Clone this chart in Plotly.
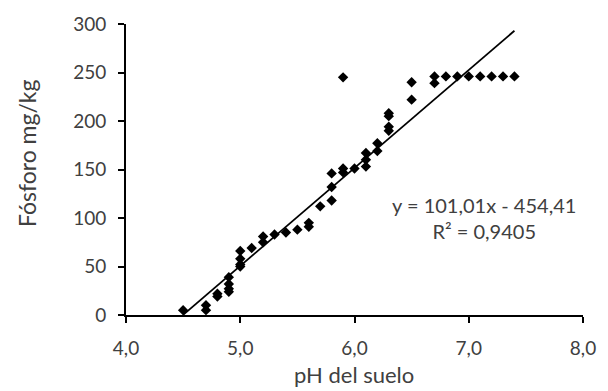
import plotly.graph_objects as go

ph = [4.5, 4.7, 4.7, 4.8, 4.8, 4.9, 4.9, 4.9, 4.9, 5.0, 5.0, 5.0, 5.0, 5.1,
      5.2, 5.2, 5.3, 5.4, 5.5, 5.6, 5.6, 5.7, 5.8, 5.8, 5.8, 5.9, 5.9, 5.9,
      6.0, 6.1, 6.1, 6.1, 6.2, 6.2, 6.3, 6.3, 6.3, 6.3, 6.5, 6.5, 6.7, 6.7,
      6.8, 6.9, 7.0, 7.1, 7.2, 7.3, 7.4]
fosforo = [5, 10, 5, 22, 19, 39, 32, 27, 24, 66, 58, 52, 50, 69,
           81, 75, 83, 85, 88, 95, 91, 112, 146, 132, 118, 245, 151, 147,
           151, 167, 160, 153, 177, 169, 208, 205, 194, 190, 240, 222, 246, 239,
           246, 246, 246, 246, 246, 246, 246]

slope = 101.01
intercept = -454.41
trend_x = [min(ph), max(ph)]
trend_y = [slope * v + intercept for v in trend_x]

x_ticks = [4.0, 5.0, 6.0, 7.0, 8.0]
y_ticks = [0, 50, 100, 150, 200, 250, 300]

font_family = "Lato, 'Open Sans', sans-serif"
txt = "#404040"

fig = go.Figure()
fig.add_trace(go.Scatter(x=trend_x, y=trend_y, mode="lines",
                         line=dict(color="black", width=1.75), showlegend=False,
                         hoverinfo="skip"))
fig.add_trace(go.Scatter(x=ph, y=fosforo, mode="markers",
                         marker=dict(symbol="diamond", size=8, color="black",
                                     line=dict(width=0)),
                         showlegend=False))

fig.add_annotation(x=7.13, y=99.5, xref="x", yref="y",
                   text="y = 101,01x - 454,41<br>R² = 0,9405",
                   showarrow=False, align="center",
                   font=dict(family=font_family, size=20, color=txt))

fig.add_annotation(x=0.498, y=-0.259, xref="paper", yref="paper",
                   text="pH del suelo", showarrow=False,
                   xanchor="center", yanchor="bottom",
                   font=dict(family=font_family, size=22, color=txt))

fig.add_annotation(x=-0.2165, y=0.557, xref="paper", yref="paper",
                   text="Fósforo mg/kg", showarrow=False, textangle=-90,
                   xanchor="center", yanchor="middle",
                   font=dict(family=font_family, size=23, color=txt))

fig.update_layout(
    width=608, height=391,
    margin=dict(l=126, r=20, t=24, b=76),
    paper_bgcolor="white", plot_bgcolor="white",
    separators=", ",
    font=dict(family=font_family, size=19, color=txt),
    xaxis=dict(range=[4, 8], tickvals=x_ticks, tickformat=".1f",
               showgrid=False, zeroline=False, showline=True,
               linecolor="black", linewidth=2, ticks="outside",
               ticklen=6, tickwidth=2, tickcolor="black",
               ticklabelstandoff=9,
               tickfont=dict(size=19, color=txt)),
    yaxis=dict(range=[0, 300], tickvals=y_ticks,
               showgrid=False, zeroline=False, showline=True,
               linecolor="black", linewidth=2, ticks="outside",
               ticklen=6, tickwidth=2, tickcolor="black",
               ticklabelstandoff=8,
               tickfont=dict(size=19, color=txt)),
)

fig.write_html("out.html")
